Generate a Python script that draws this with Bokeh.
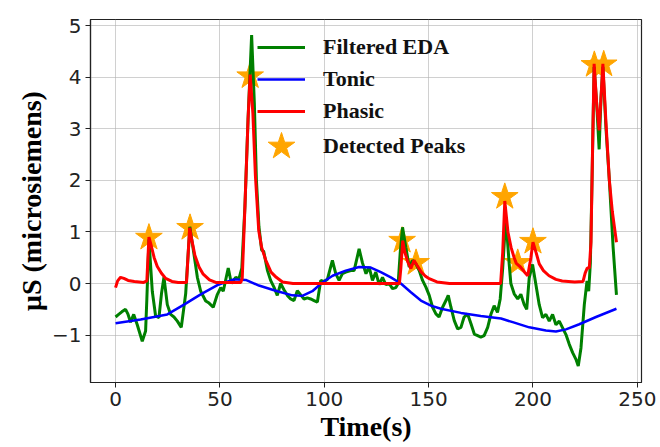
from bokeh.plotting import figure
from bokeh.models import Range1d, FixedTicker, Legend, LegendItem
from bokeh.embed import file_html
from bokeh.resources import INLINE

# ---- data ----
eda_t = [0, 1.5, 3, 4.8, 6, 7.2, 8.7, 10.4, 12.8, 14.4, 15, 16, 17.6, 19.2, 20.8, 22, 23.2,
         24.8, 26.4, 28, 29.6, 31.5, 33.6, 35.6, 37.6, 39.2, 40.8, 43.2, 44.8, 46.8, 48.8,
         50.4, 51.6, 54, 55.5, 56.5, 57.6, 59.1, 60.5, 62, 63.5, 65.2, 66.5, 67.5, 68.7, 70,
         71, 72.8, 74.3, 75.9, 77.5, 79.1, 80.7, 82.3, 83.9, 85.5, 87.1, 88.7, 90.3, 91.9,
         93.5, 95.1, 96.7, 98.3, 99.9, 101.5, 103.9, 105.5, 107.1, 108.7, 110.3, 112.7, 114.3,
         116.7, 118.3, 120, 121.5, 123.1, 124.7, 126.3, 127.9, 129.5, 131.1, 132.7, 134.3,
         135.4, 136.4, 137.5, 139.1, 140.7, 142.3, 143.9, 145.5, 147.1, 148.7, 150.3, 151.9,
         153.5, 155, 156.7, 158.3, 159.4, 160.7, 162.3, 163.9, 165.5, 167, 168.7, 170.3, 171.9,
         173.5, 175, 176.6, 178.3, 179.9, 181.4, 183, 184.3, 185.5, 187, 188.6, 189.4, 191,
         192.7, 194.2, 195.8, 197, 198.2, 199.8, 201.4, 203, 204.6, 206.2, 207.8, 209.4, 211,
         212.6, 214.2, 215.8, 217.4, 219, 220.6, 221.7, 223, 224.6, 225.9, 226.7, 227.5, 228.3,
         229.3, 230.5, 231.7, 232.6, 233.5, 235, 236.6, 238.4, 240]
eda_v = [-0.65, -0.6, -0.55, -0.5, -0.6, -0.75, -0.6, -0.8, -1.12, -0.92, -0.3, 0.85, -0.15,
         -0.63, -0.66, -0.2, 0.12, -0.41, -0.6, -0.65, -0.73, -0.85, -0.2, 1.1, 0.56, 0.12,
         -0.15, -0.34, -0.38, -0.46, -0.21, -0.08, -0.15, 0.3, 0.0, 0.06, 0.12, 0.09, 0.3, 1.5,
         3.2, 4.82, 3.5, 2.0, 1.1, 0.65, 0.62, 0.25, 0.06, -0.07, -0.23, 0.0, -0.12, -0.23,
         -0.3, -0.33, -0.14, -0.22, -0.3, -0.28, -0.3, -0.33, -0.36, 0.06, 0.04, 0.08, 0.45,
         0.19, 0.06, 0.19, 0.22, 0.25, 0.25, 0.67, 0.4, 0.19, 0.32, 0.06, 0.22, -0.02, 0.12,
         -0.02, 0.0, -0.1, -0.08, 0.0, 0.6, 1.09, 0.7, 0.32, 0.45, 0.38, 0.25, 0.06, -0.07,
         -0.23, -0.46, -0.59, -0.65, -0.46, -0.33, -0.23, -0.46, -0.72, -0.88, -0.85, -0.65,
         -0.59, -0.78, -0.98, -1.01, -1.04, -1.01, -0.85, -0.59, -0.43, -0.56, -0.3, 0.3, 1.28,
         0.38, 0.0, -0.2, -0.3, -0.21, -0.41, -0.5, 0.11, 0.37, -0.02, -0.41, -0.66, -0.6,
         -0.73, -0.6, -0.8, -0.73, -0.86, -0.99, -1.18, -1.34, -1.47, -1.6, -1.25, -0.41, 0.05,
         -0.15, 0.4, 2.0, 4.2, 3.5, 2.6, 3.6, 4.2, 3.0, 2.0, 0.7, -0.22]

tonic_t = [0, 12, 24.8, 32.8, 40.8, 48.8, 56.7, 62.4, 68.7, 76.7, 84.7, 89.5, 94.3, 99.1,
           104, 110.3, 116.7, 122.3, 127.1, 131.9, 136.7, 141.5, 146.3, 151.1, 155.9, 165.5,
           175, 184.7, 190.3, 198.2, 206.2, 211, 215.8, 222.2, 230.2, 240]
tonic_v = [-0.77, -0.7, -0.6, -0.41, -0.21, -0.03, 0.08, 0.07, -0.04, -0.14, -0.23, -0.24,
           -0.15, 0.02, 0.15, 0.25, 0.32, 0.31, 0.22, 0.12, 0.0, -0.17, -0.33, -0.43, -0.49,
           -0.57, -0.63, -0.68, -0.75, -0.85, -0.91, -0.93, -0.89, -0.79, -0.65, -0.49]

phasic_t = [0, 1, 2.4, 4, 6, 9, 13.5, 15, 16, 17, 18.5, 20, 22, 24, 27, 30, 34, 35.5, 36.5,
            38, 40, 42, 45, 48, 53, 60, 60.7, 62, 63.5, 64.5, 65.8, 67, 68.6, 70, 72, 74.5,
            77, 80, 85, 136, 136.7, 137.6, 138.5, 140, 141.5, 143, 144.5, 146.5, 148.5, 150,
            154, 160, 184.5, 185.5, 186.5, 188, 189.5, 191, 192, 194, 196, 197.5, 199, 200,
            201.5, 203, 205, 207.7, 211, 214, 220, 224, 225, 226, 227, 227.8, 228.5, 229.3,
            230.5, 231.7, 232.6, 233.5, 235, 236.6, 238, 240]
phasic_v = [-0.08, 0.05, 0.12, 0.1, 0.06, 0.04, 0.02, 0.05, 0.9, 0.75, 0.5, 0.33, 0.2, 0.1,
            0.04, 0.02, 0.02, 1.08, 0.85, 0.55, 0.32, 0.18, 0.07, 0.02, 0.02, 0.02, 0.1, 1.5,
            3.2, 4.05, 3.3, 2.1, 1.03, 0.7, 0.45, 0.22, 0.12, 0.03, 0.0, 0.0, 0.3, 0.83, 0.62,
            0.42, 0.29, 0.45, 0.35, 0.22, 0.14, 0.1, 0.03, 0.0, 0.0, 0.6, 1.6, 1.0, 0.7, 0.5,
            0.39, 0.32, 0.22, 0.15, 0.5, 0.8, 0.6, 0.38, 0.25, 0.15, 0.08, 0.05, 0.03, 0.04,
            0.2, 0.3, 0.3, 0.8, 2.5, 4.26, 3.5, 2.97, 3.6, 4.26, 3.1, 2.0, 1.4, 0.8]

peak_t = [16, 35.7, 64.5, 137.3, 144, 186.5, 192.7, 200, 229.4, 233.9]
peak_v = [0.89, 1.08, 4.02, 0.83, 0.4, 1.68, 0.4, 0.81, 4.24, 4.25]

x_ticks = [0, 50, 100, 150, 200, 250]
y_ticks = [-1, 0, 1, 2, 3, 4, 5]
y_tick_labels = {-1: "\u22121"}

labels = ["Filtered EDA", "Tonic", "Phasic", "Detected Peaks"]

# ---- figure ----
p = figure(width=660, height=447, output_backend="svg", toolbar_location=None,
           x_range=Range1d(-12, 252), y_range=Range1d(-1.92, 5.12),
           min_border_left=90, min_border_right=19, min_border_top=19,
           min_border_bottom=65, background_fill_color="white")

stars = p.scatter(peak_t, peak_v, marker="star", size=28, fill_color="orange",
                  line_color="orange")
g = p.line(eda_t, eda_v, line_color="green", line_width=3)
b = p.line(tonic_t, tonic_v, line_color="blue", line_width=2.5)
r = p.line(phasic_t, phasic_v, line_color="red", line_width=3)

p.xaxis.ticker = FixedTicker(ticks=x_ticks)
p.yaxis.ticker = FixedTicker(ticks=y_ticks)
p.yaxis.major_label_overrides = y_tick_labels

for ax in (p.xaxis[0], p.yaxis[0]):
    ax.major_label_text_font = "DejaVu Sans"
    ax.major_label_text_font_size = "20px"
    ax.major_label_text_color = "#222222"
    ax.axis_label_text_font = "Liberation Serif"
    ax.axis_label_text_font_style = "bold"
    ax.axis_label_text_font_size = "28px"
    ax.axis_label_text_color = "black"
    ax.minor_tick_line_color = None
    ax.major_tick_out = 5
    ax.major_tick_in = 0
    ax.major_label_standoff = 4
    ax.axis_label_standoff = 2
    ax.axis_line_color = "#222222"
    ax.axis_line_width = 1.2
    ax.major_tick_line_color = "#222222"

p.xaxis.axis_label = "Time(s)"
p.yaxis.axis_label = "\u03bcS (microsiemens)"

p.grid.grid_line_color = "#b0b0b0"
p.grid.grid_line_alpha = 0.6
p.grid.grid_line_width = 1
p.outline_line_color = "#222222"
p.outline_line_width = 1.2

common = dict(label_text_font="Liberation Serif", label_text_font_style="bold",
              label_text_font_size="22px", label_text_color="#111111",
              background_fill_alpha=0, border_line_alpha=0, padding=0, margin=0,
              spacing=0)

leg1 = Legend(items=[LegendItem(label=labels[0], renderers=[g]),
                     LegendItem(label=labels[1], renderers=[b]),
                     LegendItem(label=labels[2], renderers=[r])],
              location=(167, 255), glyph_width=48, glyph_height=32, label_height=32,
              label_standoff=18, **common)
leg2 = Legend(items=[LegendItem(label=labels[3], renderers=[stars])],
              location=(156, 201), glyph_width=70, glyph_height=70, label_height=70,
              label_standoff=7, **common)
p.add_layout(leg1, "center")
p.add_layout(leg2, "center")

open("out.html", "w").write(file_html(p, INLINE))
